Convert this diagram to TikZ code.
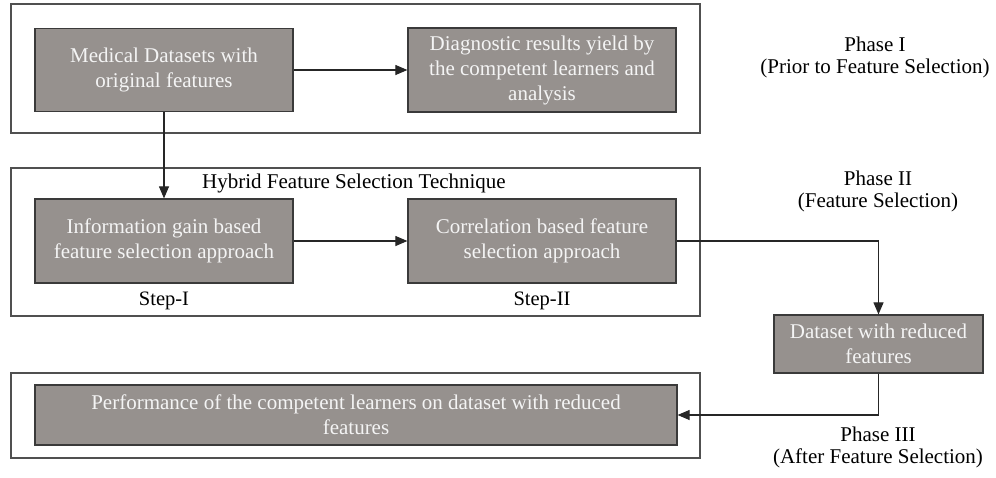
\documentclass[tikz,border=0pt]{standalone}
\usepackage{fontspec}
\setmainfont{Liberation Serif}
\usetikzlibrary{arrows.meta}
\usetikzlibrary{positioning}

\definecolor{boxfill}{HTML}{96918E}
\definecolor{boxline}{HTML}{3A3A3A}
\definecolor{boxtext}{HTML}{F4F4F4}
\definecolor{frameline}{HTML}{505050}

\tikzset{
	procbox/.style={draw=boxline, fill=boxfill, text=boxtext, line width=1.2pt, align=center, inner sep=0pt, font=\fontsize{21}{25}\selectfont},
	framebox/.style={draw=frameline, line width=1.2pt},
	phaselabel/.style={align=center, font=\fontsize{21}{22}\selectfont},
	steplabel/.style={font=\fontsize{20.5}{22}\selectfont},
	flow/.style={-{Triangle[length=12pt,width=10pt]}, line width=1.1pt, draw=black!85},
}

\begin{document}
\begin{tikzpicture}[x=1pt, y=-1pt]

	\useasboundingbox (0,0) rectangle (996,477);

	% frames of the three phases
	\draw[framebox] (11,4) rectangle (700,133);
	\draw[framebox] (11,168) rectangle (700,316);
	\draw[framebox] (11,373) rectangle (700,458);

	% phase I
	\node[procbox, minimum width=258, minimum height=83] (med) at (164,70) {Medical Datasets with\\original features};
	\node[procbox, minimum width=268, minimum height=84] (diag) at (542,70) {Diagnostic results yield by\\the competent learners and\\analysis};

	% phase II
	\node[font=\fontsize{21}{24}\selectfont] (hybrid) at (354,183) {Hybrid Feature Selection Technique};
	\node[procbox, minimum width=258, minimum height=84] (ig) at (164,241) {Information gain based\\feature selection approach};
	\node[procbox, minimum width=268, minimum height=84] (corr) at (542,241) {Correlation based feature\\selection approach};
	\node[steplabel, below=5pt of ig] (stepI) {Step-I};
	\node[steplabel, below=5pt of corr] (stepII) {Step-II};
	\node[procbox, minimum width=209, minimum height=58] (data) at (878.5,344) {Dataset with reduced\\features};

	% phase III
	\node[procbox, minimum width=642, minimum height=60] (perf) at (356,415) {Performance of the competent learners on dataset with reduced\\features};

	% phase labels
	\node[phaselabel] (phaseI) at (875,57) {Phase I\\(Prior to Feature Selection)};
	\node[phaselabel] (phaseII) at (878,191) {Phase II\\(Feature Selection)};
	\node[phaselabel] (phaseIII) at (878,447) {Phase III\\(After Feature Selection)};

	% connectors
	\draw[flow] (med) -- (diag);
	\draw[flow] (med) -- (ig);
	\draw[flow] (ig) -- (corr);
	\draw[flow] (corr.east) -| (data.north);
	\draw[flow] (data.south) |- (perf.east);

\end{tikzpicture}
\end{document}
